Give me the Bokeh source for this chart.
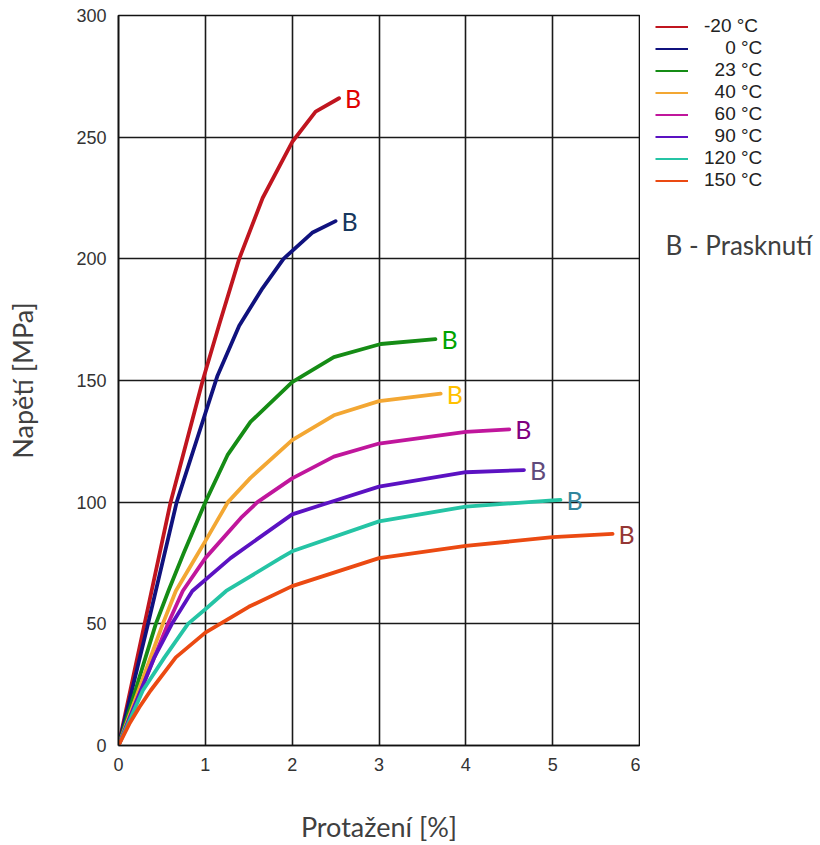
from bokeh.plotting import figure
from bokeh.models import Legend, LegendItem, Label, FixedTicker, ColumnDataSource, Range1d
from bokeh.layouts import row
from bokeh.embed import file_html
from bokeh.resources import INLINE
from bokeh.core.properties import value

# ---- data ----
series_labels = ["-20 °C", "0 °C", "23 °C", "40 °C", "60 °C", "90 °C", "120 °C", "150 °C"]

x_m20 = [0, 0.30, 0.60, 0.80, 0.97, 1.16, 1.39, 1.66, 2.00, 2.27, 2.54]
y_m20 = [0, 50, 100, 127, 150, 173, 200, 225, 248, 260.5, 266]

x_0 = [0, 0.34, 0.67, 0.95, 1.14, 1.39, 1.66, 1.90, 2.23, 2.50]
y_0 = [0, 50, 100, 131, 152, 172.5, 188, 200, 210.7, 215.5]

x_23 = [0, 0.43, 0.58, 0.75, 1.00, 1.255, 1.52, 2.00, 2.48, 3.02, 3.65]
y_23 = [0, 50, 64, 79, 100, 119.3, 133, 149.3, 159.6, 165, 167]

x_40 = [0, 0.51, 0.66, 0.90, 1.00, 1.13, 1.26, 1.52, 2.00, 2.48, 3.00, 3.71]
y_40 = [0, 50, 63.5, 78, 84, 92, 100, 110, 125.5, 135.7, 141.5, 144.6]

x_60 = [0, 0.57, 0.74, 1.00, 1.41, 1.60, 2.00, 2.48, 3.00, 4.00, 4.50]
y_60 = [0, 50, 63.5, 77, 93.5, 100, 109.8, 118.7, 124.1, 128.9, 129.9]

x_90 = [0, 0.41, 0.615, 0.85, 1.29, 2.00, 2.48, 3.00, 4.00, 4.67]
y_90 = [0, 36, 50, 63.5, 77, 95, 100.5, 106.4, 112.3, 113.2]

x_120 = [0, 0.28, 0.53, 0.80, 1.00, 1.24, 1.87, 2.00, 3.00, 4.00, 5.00, 5.09]
y_120 = [0, 22.6, 36.2, 50, 56, 63.5, 77.1, 79.8, 92.1, 98.2, 100.7, 100.9]

x_150 = [0, 0.125, 0.24, 0.37, 0.66, 1.00, 1.50, 2.00, 3.00, 4.00, 5.00, 5.69]
y_150 = [0, 8.9, 15.7, 22.6, 36.2, 46.4, 57, 65.5, 77, 82, 85.6, 87]

break_mark = "B"
break_note = "B - Prasknutí"
x_ticks = [0, 1, 2, 3, 4, 5, 6]
y_ticks = [0, 50, 100, 150, 200, 250, 300]
x_title = "Protažení [%]"
y_title = "Napětí [MPa]"

# ---- styling ----
line_colors = ["#c0151f", "#10127e", "#158c15", "#f3a733", "#c0169c", "#5b12c2", "#25c4a5", "#eb4a12"]
mark_colors = ["#e00000", "#17375e", "#00a300", "#ffc000", "#800080", "#604a7b", "#31859c", "#953735"]
FS = "\u2007"  # figure space: right-aligns the legend numbers as in the reference
label_pad = ["", FS + FS, FS, FS, FS, FS, "", ""]

xs = [x_m20, x_0, x_23, x_40, x_60, x_90, x_120, x_150]
ys = [y_m20, y_0, y_23, y_40, y_60, y_90, y_120, y_150]

# ---- main chart ----
p = figure(width=640, height=845, x_range=(0, 6), y_range=(0, 300),
           output_backend="svg", toolbar_location=None,
           min_border_left=118, min_border_right=1, min_border_top=15, min_border_bottom=97)
p.background_fill_color = "white"
p.border_fill_color = "white"
p.outline_line_color = "#111111"
p.outline_line_width = 1.6

for ax in (p.xaxis, p.yaxis):
    ax.major_tick_out = 0
    ax.major_tick_in = 0
    ax.minor_tick_out = 0
    ax.minor_tick_in = 0
    ax.axis_line_color = "#111111"
    ax.axis_line_width = 1.6
    ax.major_label_text_font = "Liberation Sans"
    ax.major_label_text_font_size = "18px"
    ax.major_label_text_color = "#333333"
    ax.axis_label_text_font = "Lato"
    ax.axis_label_text_font_size = "27px"
    ax.axis_label_text_font_style = "normal"
    ax.axis_label_text_color = "#404040"

p.xaxis.ticker = FixedTicker(ticks=x_ticks)
p.yaxis.ticker = FixedTicker(ticks=y_ticks)
p.xaxis.major_label_standoff = 12
p.yaxis.major_label_standoff = 12
p.xaxis.axis_label = x_title
p.yaxis.axis_label = y_title
p.xaxis.axis_label_standoff = 36
p.yaxis.axis_label_standoff = 34

p.grid.grid_line_color = "#1a1a1a"
p.grid.grid_line_width = 1.6
p.xgrid.ticker = FixedTicker(ticks=x_ticks)
p.ygrid.ticker = FixedTicker(ticks=y_ticks)

for i in range(len(xs)):
    p.line(xs[i], ys[i], line_color=line_colors[i], line_width=3.8,
           line_join="round", line_cap="round")

ends = ColumnDataSource(dict(
    x=[a[-1] for a in xs], y=[b[-1] for b in ys],
    t=[break_mark] * len(xs), c=mark_colors))
p.text(x="x", y="y", text="t", source=ends, text_color="c",
       text_font=value("Lato"), text_font_size="25px",
       text_baseline="middle", text_align="left", x_offset=6)

# ---- side panel: legend and note (its frame is aligned with the chart frame) ----
side = figure(width=180, height=845, x_range=Range1d(655, 820), y_range=Range1d(748, 15),
              output_backend="svg", toolbar_location=None,
              x_axis_location=None, y_axis_location=None,
              min_border_left=15, min_border_right=0, min_border_top=15, min_border_bottom=97)
side.grid.visible = False
side.outline_line_color = None
side.background_fill_color = "white"
side.border_fill_color = "white"

nan = float("nan")
items = []
for i in range(len(xs)):
    swatch = side.line(x=[nan], y=[nan], line_color=line_colors[i], line_width=2)
    items.append(LegendItem(label=label_pad[i] + series_labels[i], renderers=[swatch]))

legend = Legend(items=items, location="top_left",
                glyph_width=33, glyph_height=21, label_height=21,
                spacing=0, padding=0, margin=0,
                label_standoff=16,
                label_text_font="Liberation Sans", label_text_font_size="19px",
                label_text_color="#222222",
                border_line_color=None, background_fill_alpha=0)
side.add_layout(legend)

note = Label(x=665, y=245, text=break_note,
             text_font="Lato", text_font_size="26px",
             text_color="#404040", text_baseline="middle", text_align="left")
side.add_layout(note)

layout = row(p, side)
open("out.html", "w").write(file_html(layout, INLINE))
